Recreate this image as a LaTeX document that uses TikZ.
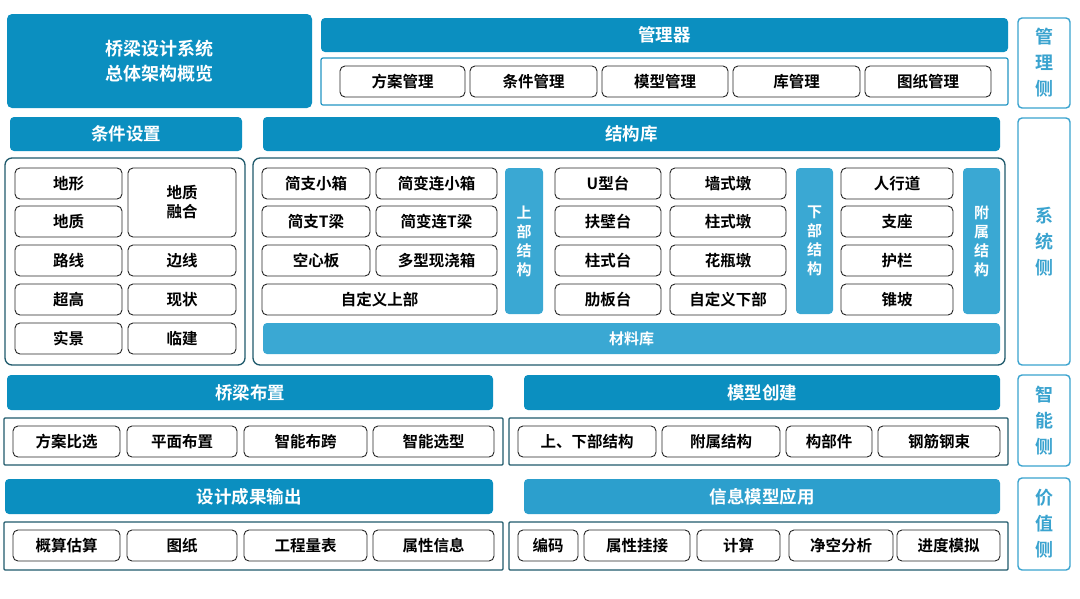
\documentclass[tikz,border=0pt]{standalone}
\usepackage{fontspec}
\setmainfont{Noto Sans CJK SC}[BoldFont={Noto Sans CJK SC Bold}]
\definecolor{hdr}{HTML}{0B8FC0}
\definecolor{hdrlight}{HTML}{2C9FCD}
\definecolor{bar}{HTML}{3AA8D3}
\definecolor{framedark}{HTML}{1F5A6C}
\definecolor{framelight}{HTML}{2396C4}
\definecolor{side}{HTML}{3AA3CF}
\tikzset{
  base/.style={inner sep=0pt, outer sep=0pt, align=center},
  titlebox/.style={base, fill=hdr, rounded corners=5pt, text=white, font=\bfseries\fontsize{18}{25}\selectfont},
  hdrbox/.style={base, fill=hdr, rounded corners=4pt, text=white, font=\bfseries\fontsize{17.5}{20}\selectfont},
  hdrlbox/.style={base, fill=hdrlight, rounded corners=4pt, text=white, font=\bfseries\fontsize{17.5}{20}\selectfont},
  barbox/.style={base, fill=bar, rounded corners=4pt, text=white, font=\bfseries\fontsize{15}{19}\selectfont},
  item/.style={base, draw=black!85, line width=0.9pt, fill=white, rounded corners=5pt, font=\bfseries\fontsize{15.5}{19}\selectfont},
  dframe/.style={base, draw=framedark, line width=1.3pt, fill=white, rounded corners=7pt},
  tframe/.style={base, draw=framedark, line width=1.2pt, fill=white, rounded corners=1pt},
  lframe/.style={base, draw=framelight, line width=1.2pt, fill=white, rounded corners=2pt},
  sidebox/.style={base, draw=side, line width=1.4pt, fill=white, rounded corners=4pt, text=side, font=\bfseries\fontsize{18}{26}\selectfont},
}
\newcommand{\bx}[7]{\node[#6, minimum width={(#4-#2)*1pt}, minimum height={(#5-#3)*1pt}] (#1) at ({(#2+#4)/2},{-(#3+#5)/2}) {#7};}
\begin{document}
\begin{tikzpicture}[x=1pt,y=1pt]
\fill[white] (0,0) rectangle (1080,-598);
\useasboundingbox (0,0) rectangle (1080,-598);
% ---------- top row
\bx{title}{7}{14}{312}{108}{titlebox}{桥梁设计系统\\总体架构概览}
\bx{mgrh}{321}{18}{1008}{52}{hdrbox}{管理器}
\bx{mgrf}{321}{58}{1008}{105}{lframe}{}
\bx{m1}{340}{66}{465}{97}{item}{方案管理}
\bx{m2}{470}{66}{597}{97}{item}{条件管理}
\bx{m3}{602}{66}{728}{97}{item}{模型管理}
\bx{m4}{733}{66}{860}{97}{item}{库管理}
\bx{m5}{865}{66}{991}{97}{item}{图纸管理}
\bx{s1}{1018}{18}{1070}{108}{sidebox}{管\\理\\侧}
% ---------- system row
\bx{condh}{10}{117}{242}{151}{hdrbox}{条件设置}
\bx{strh}{263}{117}{1000}{151}{hdrbox}{结构库}
\bx{condf}{5}{158}{245}{365}{dframe}{}
\bx{c1}{15}{168}{122}{199}{item}{地形}
\bx{c2}{15}{206}{122}{237}{item}{地质}
\bx{c3}{15}{245}{122}{276}{item}{路线}
\bx{c4}{15}{284}{122}{315}{item}{超高}
\bx{c5}{15}{323}{122}{354}{item}{实景}
\bx{c6}{128}{168}{236}{237}{item}{地质\\融合}
\bx{c7}{128}{245}{236}{276}{item}{边线}
\bx{c8}{128}{284}{236}{315}{item}{现状}
\bx{c9}{128}{323}{236}{354}{item}{临建}
\bx{strf}{253}{158}{1005}{365}{dframe}{}
\bx{u1}{262}{168}{370}{199}{item}{简支小箱}
\bx{u2}{376}{168}{497}{199}{item}{简变连小箱}
\bx{u3}{262}{206}{370}{237}{item}{简支T梁}
\bx{u4}{376}{206}{497}{237}{item}{简变连T梁}
\bx{u5}{262}{245}{370}{276}{item}{空心板}
\bx{u6}{376}{245}{497}{276}{item}{多型现浇箱}
\bx{u7}{262}{284}{497}{315}{item}{自定义上部}
\bx{ub}{505}{168}{543}{314}{barbox}{上\\部\\结\\构}
\bx{d1}{555}{168}{661}{199}{item}{U型台}
\bx{d2}{555}{206}{661}{237}{item}{扶壁台}
\bx{d3}{555}{245}{661}{276}{item}{柱式台}
\bx{d4}{555}{284}{661}{315}{item}{肋板台}
\bx{d5}{670}{168}{786}{199}{item}{墙式墩}
\bx{d6}{670}{206}{786}{237}{item}{柱式墩}
\bx{d7}{670}{245}{786}{276}{item}{花瓶墩}
\bx{d8}{670}{284}{786}{315}{item}{自定义下部}
\bx{db}{796}{168}{833}{314}{barbox}{下\\部\\结\\构}
\bx{a1}{841}{168}{953}{199}{item}{人行道}
\bx{a2}{841}{206}{953}{237}{item}{支座}
\bx{a3}{841}{245}{953}{276}{item}{护栏}
\bx{a4}{841}{284}{953}{315}{item}{锥坡}
\bx{ab}{963}{168}{1000}{314}{barbox}{附\\属\\结\\构}
\bx{mat}{263}{323}{1000}{354}{barbox}{材料库}
\bx{s2}{1018}{118}{1070}{365}{sidebox}{系\\统\\侧}
% ---------- intelligent row
\bx{layh}{7}{375}{493}{410}{hdrbox}{桥梁布置}
\bx{layf}{4}{418}{503}{465}{tframe}{}
\bx{l1}{13}{426}{120}{457}{item}{方案比选}
\bx{l2}{127}{426}{237}{457}{item}{平面布置}
\bx{l3}{244}{426}{367}{457}{item}{智能布跨}
\bx{l4}{373}{426}{494}{457}{item}{智能选型}
\bx{modh}{524}{375}{1000}{410}{hdrbox}{模型创建}
\bx{modf}{509}{418}{1008}{465}{tframe}{}
\bx{k1}{518}{426}{656}{457}{item}{上、下部结构}
\bx{k2}{662}{426}{780}{457}{item}{附属结构}
\bx{k3}{786}{426}{872}{457}{item}{构部件}
\bx{k4}{878}{426}{1000}{457}{item}{钢筋钢束}
\bx{s3}{1018}{375}{1070}{466}{sidebox}{智\\能\\侧}
% ---------- value row
\bx{outh}{5}{479}{493}{514}{hdrbox}{设计成果输出}
\bx{outf}{4}{522}{503}{570}{tframe}{}
\bx{o1}{13}{530}{120}{561}{item}{概算估算}
\bx{o2}{127}{530}{237}{561}{item}{图纸}
\bx{o3}{244}{530}{367}{561}{item}{工程量表}
\bx{o4}{373}{530}{494}{561}{item}{属性信息}
\bx{apph}{524}{479}{1000}{514}{hdrlbox}{信息模型应用}
\bx{appf}{509}{522}{1008}{570}{tframe}{}
\bx{p1}{518}{530}{578}{561}{item}{编码}
\bx{p2}{584}{530}{690}{561}{item}{属性挂接}
\bx{p3}{697}{530}{780}{561}{item}{计算}
\bx{p4}{789}{530}{893}{561}{item}{净空分析}
\bx{p5}{897}{530}{1000}{561}{item}{进度模拟}
\bx{s4}{1018}{478}{1070}{570}{sidebox}{价\\值\\侧}
\end{tikzpicture}
\end{document}
